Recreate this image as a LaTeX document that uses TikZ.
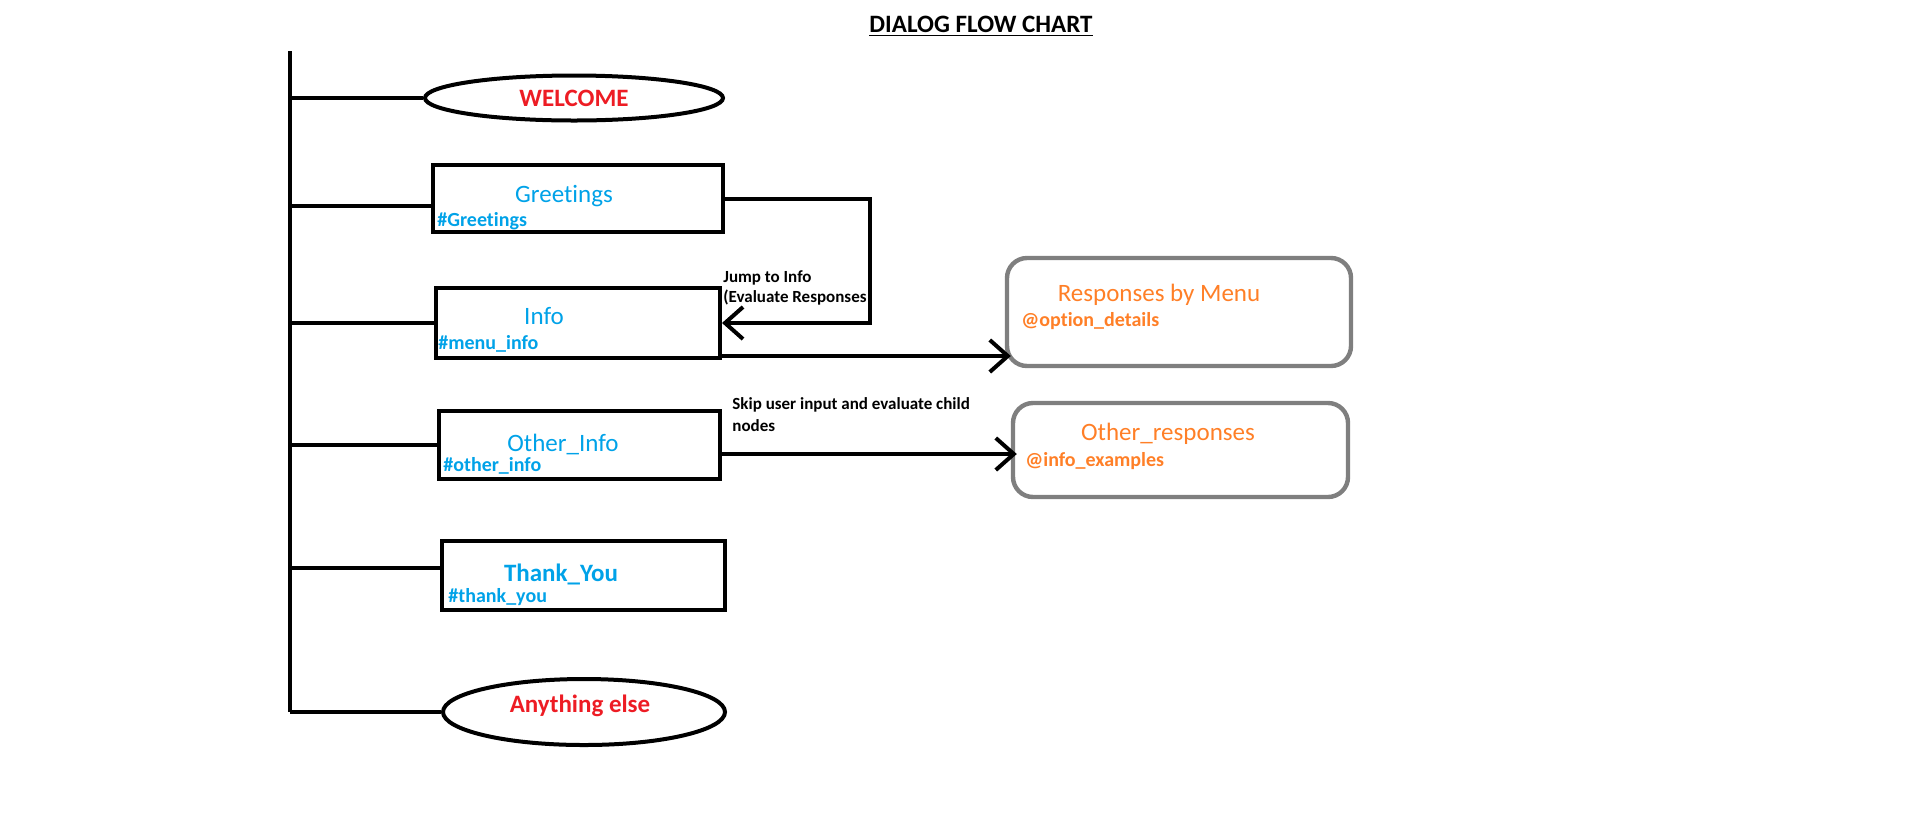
\documentclass[tikz,border=0pt]{standalone}
\usepackage{fontspec}
\setmainfont{Carlito}[Ligatures=NoCommon]
\usetikzlibrary{shapes.geometric,arrows.meta}
\definecolor{paintblue}{RGB}{0,162,232}
\definecolor{paintred}{RGB}{237,28,36}
\definecolor{paintorange}{RGB}{255,127,39}
\definecolor{paintgray}{RGB}{127,127,127}
\tikzset{>={Straight Barb[length=9pt,width=16pt]}}
\tikzset{
    link/.style={line width=2pt},
    box/.style={draw, line width=2pt, inner sep=0pt},
    oval/.style={draw, ellipse, line width=2pt, inner sep=0pt, text=paintred, font=\bfseries\fontsize{12.5}{15}\selectfont},
    respbox/.style={draw=paintgray, line width=2.2pt, rounded corners=10pt, inner sep=0pt},
    lbl/.style={anchor=base, inner sep=0pt, font=\fontsize{12.5}{15}\selectfont},
    tag/.style={anchor=base west, inner sep=0pt, font=\bfseries\fontsize{10}{12}\selectfont},
    note/.style={anchor=north west, inner sep=0pt, align=left, font=\bfseries\fontsize{8.5}{10}\selectfont}
}

\begin{document}
\begin{tikzpicture}[x=0.5pt, y=-0.5pt]
    \useasboundingbox (0,0) rectangle (1914,836);
    \node[anchor=base, inner sep=0pt, font=\bfseries\fontsize{12.5}{15}\selectfont] (title) at (981,32) {\underline{DIALOG FLOW CHART}};

    % trunk
    \coordinate (top) at (290,51);
    \coordinate (bot) at (290,712);
    \draw[link] (top) -- (bot);

    \node[oval, minimum width=149pt, minimum height=22.5pt] (welcome) at (574,98) {WELCOME};
    \node[box, minimum width=145pt, minimum height=33.5pt] (greet) at (578,198.5) {};
    \node[box, minimum width=142pt, minimum height=35pt] (info) at (578,323) {};
    \node[box, minimum width=140.5pt, minimum height=34pt] (oinfo) at (579.5,445) {};
    \node[box, minimum width=141.5pt, minimum height=34.5pt] (thank) at (583.5,575.5) {};
    \node[oval, minimum width=141pt, minimum height=33pt] (anything) at (584,712) {};
    \node[respbox, minimum width=172pt, minimum height=54pt] (resp) at (1179,312) {};
    \node[respbox, minimum width=167.5pt, minimum height=47pt] (oresp) at (1180.5,450) {};

    \node[lbl, text=paintred, font=\bfseries\fontsize{12.5}{15}\selectfont] (anythingt) at (580,712) {Anything else};
    \node[lbl, text=paintblue] (greett) at (564,202) {Greetings};
    \node[tag, text=paintblue] (greetg) at (437,226) {\#Greetings};
    \node[lbl, text=paintblue] (infot) at (544,324) {Info};
    \node[tag, text=paintblue] (infog) at (438,349) {\#menu\_info};
    \node[lbl, text=paintblue] (oinfot) at (563,451) {Other\_Info};
    \node[tag, text=paintblue] (oinfog) at (443,471) {\#other\_info};
    \node[lbl, text=paintblue, font=\bfseries\fontsize{12.5}{15}\selectfont] (thankt) at (561,581) {Thank\_You};
    \node[tag, text=paintblue] (thankg) at (448,602) {\#thank\_you};
    \node[lbl, text=paintorange] (respt) at (1159,301) {Responses by Menu};
    \node[tag, text=paintorange] (respg) at (1021,326) {@option\_details};
    \node[lbl, text=paintorange] (oresptt) at (1168,440) {Other\_responses};
    \node[tag, text=paintorange] (orespg) at (1025,466) {@info\_examples};

    \foreach \n in {welcome,info,oinfo,anything}
        \draw[link] (\n.west) -- (\n.west -| top);
    \draw[link] ([yshift=-3.75pt]greet.west) -- ([yshift=-3.75pt]greet.west -| top);
    \draw[link] ([yshift=3.75pt]thank.west) -- ([yshift=3.75pt]thank.west -| top);

    \coordinate (jump) at (870,198.5);
    \draw[link, ->] (greet.east) -- (jump) |- (info.east);
    \node[note] (jumpn) at (723,270) {Jump to Info\\(Evaluate Responses};
    \draw[link, ->] ([yshift=2pt]info.south east) -- ([xshift=3pt,yshift=2pt]info.south east -| resp.west);
    \draw[link, ->] ([yshift=-4.5pt]oinfo.east) -- ([xshift=3pt,yshift=-4.5pt]oinfo.east -| oresp.west);
    \node[note, font=\bfseries\fontsize{8.5}{11}\selectfont] (skipn) at (732,397) {Skip user input and evaluate child\\nodes};
\end{tikzpicture}
\end{document}
